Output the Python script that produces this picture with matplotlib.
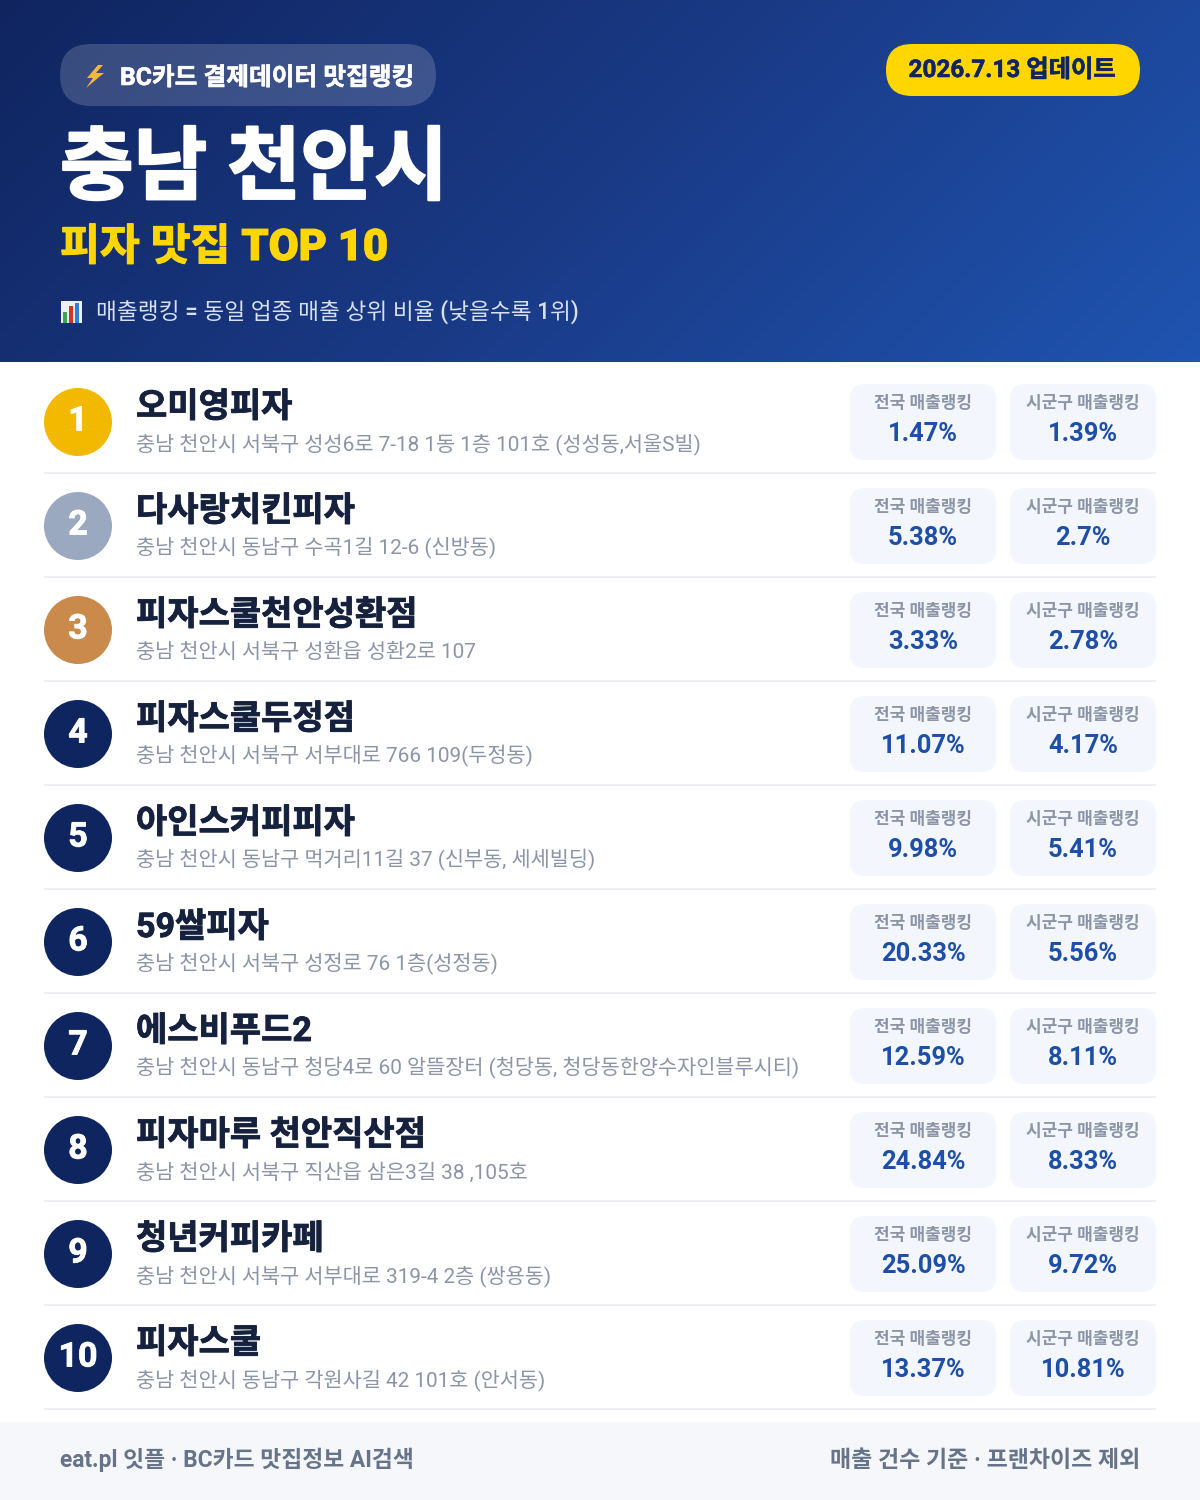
import numpy as np
import matplotlib
matplotlib.use("Agg")
import matplotlib.pyplot as plt
import matplotlib.patheffects as pe
from matplotlib.patches import FancyBboxPatch, Circle, Polygon, Rectangle
from matplotlib.colors import LinearSegmentedColormap

plt.rcParams['font.family'] = ['Roboto', 'Noto Sans CJK KR', 'DejaVu Sans']

ranks = [1, 2, 3, 4, 5, 6, 7, 8, 9, 10]
names = ["오미영피자", "다사랑치킨피자", "피자스쿨천안성환점", "피자스쿨두정점", "아인스커피피자",
         "59쌀피자", "에스비푸드2", "피자마루 천안직산점", "청년커피카페", "피자스쿨"]
addresses = ["충남 천안시 서북구 성성6로 7-18 1동 1층 101호 (성성동,서울S빌)",
             "충남 천안시 동남구 수곡1길 12-6 (신방동)",
             "충남 천안시 서북구 성환읍 성환2로 107",
             "충남 천안시 서북구 서부대로 766 109(두정동)",
             "충남 천안시 동남구 먹거리11길 37 (신부동, 세세빌딩)",
             "충남 천안시 서북구 성정로 76 1층(성정동)",
             "충남 천안시 동남구 청당4로 60 알뜰장터 (청당동, 청당동한양수자인블루시티)",
             "충남 천안시 서북구 직산읍 삼은3길 38 ,105호",
             "충남 천안시 서북구 서부대로 319-4 2층 (쌍용동)",
             "충남 천안시 동남구 각원사길 42 101호 (안서동)"]
national = ["1.47%", "5.38%", "3.33%", "11.07%", "9.98%", "20.33%", "12.59%", "24.84%", "25.09%", "13.37%"]
district = ["1.39%", "2.7%", "2.78%", "4.17%", "5.41%", "5.56%", "8.11%", "8.33%", "9.72%", "10.81%"]
label_nat = "전국 매출랭킹"
label_dis = "시군구 매출랭킹"
badge_text = "BC카드 결제데이터 맛집랭킹"
update_text = "2026.7.13 업데이트"
title = "충남 천안시"
subtitle = "피자 맛집 TOP 10"
note = "매출랭킹 = 동일 업종 매출 상위 비율 (낮을수록 1위)"
foot_l = "eat.pl 잇플 · BC카드 맛집정보 AI검색"
foot_r = "매출 건수 기준 · 프랜차이즈 제외"

NAVY = "#0f2560"
rank_colors = ["#F2B900", "#9AA8C0", "#C98A4B"] + [NAVY] * 7

def px(s):
    return s * 0.72

def heavy(color, w):
    return [pe.withStroke(linewidth=w, foreground=color)]

fig = plt.figure(figsize=(12, 15), dpi=100, facecolor="white")
ax = fig.add_axes([0, 0, 1, 1])
ax.set_xlim(0, 1200)
ax.set_ylim(1500, 0)
ax.axis("off")

# header gradient
H, W = 91, 300
yy, xx = np.mgrid[0:H, 0:W]
xn = xx / (W - 1) * 1200
yn = yy / (H - 1) * 362
g = (xn + yn) / (1200 + 362)
cmap = LinearSegmentedColormap.from_list("h", ["#102560", "#1a3a86", "#1f54b0"])
ax.imshow(g, extent=(0, 1200, 362, 0), cmap=cmap, aspect="auto", zorder=0, vmin=0, vmax=1)
ax.set_xlim(0, 1200)
ax.set_ylim(1500, 0)

def rbox(x0, y0, x1, y1, r, **kw):
    p = FancyBboxPatch((x0 + r, y0 + r), x1 - x0 - 2 * r, y1 - y0 - 2 * r,
                       boxstyle=f"round,pad={r},rounding_size={r}", linewidth=0, **kw)
    ax.add_patch(p)
    return p

# badge
rbox(60, 44, 436, 106, 31, facecolor="white", alpha=0.17, zorder=1)
ax.add_patch(Polygon([[98, 65], [87, 78], [93, 78], [86, 88], [104, 73], [96, 73], [103, 65]],
                     closed=True, facecolor="#F6B73C", edgecolor="none", zorder=2))
ax.text(120, 85, badge_text, fontsize=px(24.7), fontweight="bold", color="white", va="baseline", zorder=3,
        path_effects=heavy("white", 0.4))

# update pill
rbox(886, 44, 1140, 96, 26, facecolor="#FFD600", zorder=1)
ax.text(1012, 77, update_text, fontsize=px(24.3), fontweight="bold", color=NAVY, ha="center", va="baseline", zorder=3,
        path_effects=heavy(NAVY, 0.4))

ax.text(60, 193, title, fontsize=px(80), fontweight="black", color="white", va="baseline", zorder=3,
        path_effects=heavy("white", 1.6))
ax.text(60, 260, subtitle, fontsize=px(43.4), fontweight="black", color="#FFD600", va="baseline", zorder=3,
        path_effects=heavy("#FFD600", 0.8))

# chart icon
ax.add_patch(Rectangle((61, 301), 21, 22, facecolor="#eef2f6", edgecolor="none", zorder=2))
for xb, yb, c in [(63, 312, "#3aa655"), (69, 306, "#d9302c"), (75, 303, "#2f7fd6")]:
    ax.add_patch(Rectangle((xb, yb), 4, 323 - yb, facecolor=c, edgecolor="none", zorder=3))
ax.text(96, 319, note, fontsize=px(22.65), fontweight="medium", color="#d6e0f2", va="baseline", zorder=3)

# rows
for i in range(len(ranks)):
    dy = 104 * i
    ax.add_patch(Circle((78, 422 + dy), 34, facecolor=rank_colors[i], edgecolor="none", zorder=2))
    ax.text(78, 430.5 + dy, str(ranks[i]), fontsize=px(34), fontweight="bold", color="white",
            ha="center", va="baseline", zorder=3, path_effects=heavy("white", 0.6))
    ax.text(136, 417 + dy, names[i], fontsize=px(34), fontweight="bold", color="#16213e", va="baseline", zorder=3,
            path_effects=heavy("#16213e", 0.6))
    ax.text(136, 450.5 + dy, addresses[i], fontsize=px(20.8), fontweight="regular", color="#8b95a7", va="baseline", zorder=3)
    for x0, lab, vals in [(850, label_nat, national), (1010, label_dis, district)]:
        rbox(x0, 384 + dy, x0 + 146, 460 + dy, 15, facecolor="#f3f6fc", zorder=1)
        cx = x0 + 73
        ax.text(cx, 407.5 + dy, lab, fontsize=px(17), fontweight="bold", color="#8b95a7", ha="center", va="baseline", zorder=3)
        ax.text(cx, 441 + dy, vals[i], fontsize=px(25.5), fontweight="bold", color="#1e4fa8", ha="center", va="baseline", zorder=3)
    ax.plot([44, 1156], [473 + dy, 473 + dy], color="#eceef2", lw=1.5, solid_capstyle="butt", zorder=1)

# footer
ax.add_patch(Rectangle((0, 1422), 1200, 78, facecolor="#f5f7fb", edgecolor="none", zorder=1))
ax.text(60, 1467, foot_l, fontsize=px(22.8), fontweight="bold", color="#667389", va="baseline", zorder=3)
ax.text(1140, 1467, foot_r, fontsize=px(23), fontweight="bold", color="#667389", ha="right", va="baseline", zorder=3)

fig.savefig("out.png", dpi=100)
